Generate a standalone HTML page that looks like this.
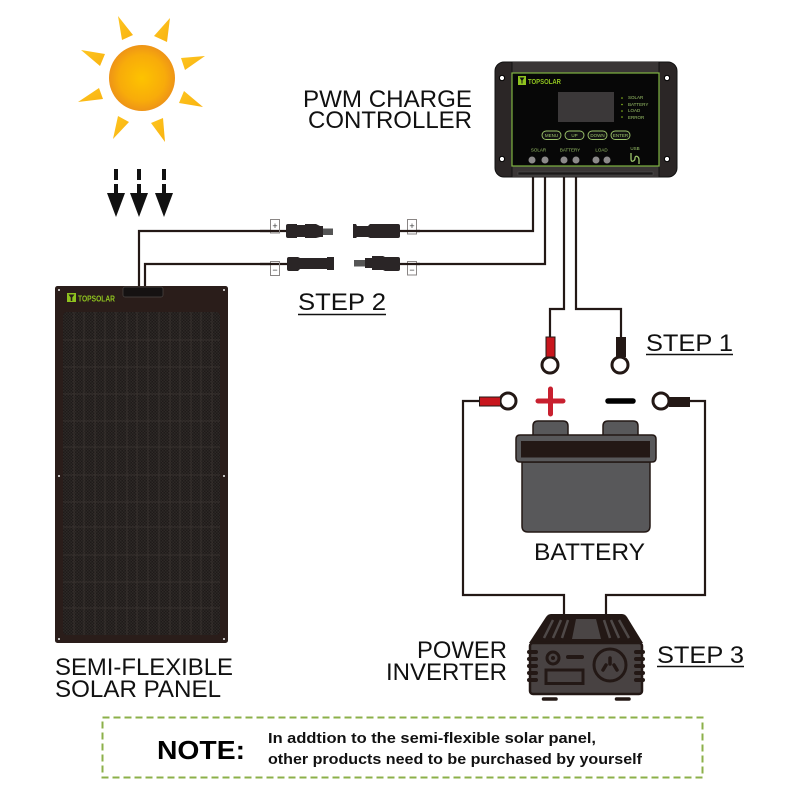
<!DOCTYPE html>
<html>
<head>
<meta charset="utf-8">
<style>
html,body{margin:0;padding:0;background:#fff}
svg{display:block;filter:blur(.35px)}
text{font-family:"Liberation Sans",sans-serif}
</style>
</head>
<body>
<svg width="800" height="800" viewBox="0 0 800 800" xmlns="http://www.w3.org/2000/svg">
<defs>
<radialGradient id="sun" cx="50%" cy="50%" r="50%">
<stop offset="0" stop-color="#fdc300"/><stop offset=".7" stop-color="#f8ab0a"/><stop offset="1" stop-color="#ee9417"/>
</radialGradient>
<linearGradient id="ray" x1="0" y1="0" x2="1" y2="1"><stop offset="0" stop-color="#fdc520"/><stop offset="1" stop-color="#f9b20f"/></linearGradient>
<pattern id="chk" width="3" height="3" patternUnits="userSpaceOnUse">
<rect width="3" height="3" fill="#1f1a19"/><rect width="1.5" height="1.5" fill="#2e2927"/><rect x="1.5" y="1.5" width="1.5" height="1.5" fill="#2e2927"/>
</pattern>
</defs>
<rect width="800" height="800" fill="#fff"/>

<!-- sun -->
<circle cx="142" cy="78" r="33" fill="url(#sun)"/>
<g fill="url(#ray)">
<polygon points="118,16 133,35 122,40"/><polygon points="170,18 167,42 154,36"/>
<polygon points="81,50 105,54 100,66"/><polygon points="205,56 185,70 181,58"/>
<polygon points="78,102 99,88 103,99"/><polygon points="203,107 184,91 179,103"/>
<polygon points="113,139 118,116 129,122"/><polygon points="165,142 151,123 163,118"/>
</g>
<!-- arrows -->
<g fill="#111">
<rect x="114" y="169" width="4" height="11"/><rect x="114" y="184" width="4" height="10"/><polygon points="107,193 125,193 116,217"/>
<rect x="137" y="169" width="4" height="11"/><rect x="137" y="184" width="4" height="10"/><polygon points="130,193 148,193 139,217"/>
<rect x="162" y="169" width="4" height="11"/><rect x="162" y="184" width="4" height="10"/><polygon points="155,193 173,193 164,217"/>
</g>

<!-- wires -->
<g fill="none" stroke="#231815" stroke-width="2.200">
<path d="M139,286V231H287"/>
<path d="M145,286V264H287"/>
<path d="M400,231H533V172"/>
<path d="M400,264H545V172"/>
<path d="M550,340V309H564V172"/>
<path d="M621,340V309H576V172"/>
<path d="M480,401H463V595H564V616"/>
<path d="M690,401H705V595H606V616"/>
</g>

<!-- controller -->
<rect x="495" y="62" width="182" height="115" rx="9" fill="#2b2626" stroke="#111" stroke-width="1"/>
<rect x="512" y="62" width="147" height="11" fill="#3a3636"/>
<rect x="512" y="166" width="147" height="11" fill="#3a3636"/>
<path d="M512,62V177M659,62V177" stroke="#111" stroke-width="1"/>
<rect x="512" y="73" width="147" height="93" fill="#070707" stroke="#7fb441" stroke-width="1.200"/>
<rect x="518" y="172" width="135" height="3" fill="#1c1a1a" stroke="#555" stroke-width=".5"/>
<g fill="#fff" stroke="#000"><circle cx="502" cy="78" r="2.600"/><circle cx="667" cy="78" r="2.600"/><circle cx="502" cy="159" r="2.600"/><circle cx="667" cy="159" r="2.600"/></g>
<path d="M518,76h8v9h-8z" fill="#8fc31f"/><path d="M519.500,77.500h5l-2,3v3h-1v-3z" fill="#111"/>
<text x="528" y="84" font-size="7.500" font-weight="bold" fill="#8fc31f" textLength="33" lengthAdjust="spacingAndGlyphs">TOPSOLAR</text>
<rect x="558" y="92" width="56" height="30" fill="#3b3839"/>
<g font-size="4.500" fill="#9cc46a"><text x="628" y="99">SOLAR</text><text x="628" y="106">BATTERY</text><text x="628" y="112">LOAD</text><text x="628" y="119">ERROR</text></g>
<g fill="#8fc31f"><circle cx="622" cy="98" r=".8"/><circle cx="622" cy="104.500" r=".8"/><circle cx="622" cy="111" r=".8"/><circle cx="622" cy="117" r=".8"/></g>
<g fill="#111" stroke="#9cc46a" stroke-width=".9"><rect x="542" y="131" width="19" height="8.500" rx="4.200"/><rect x="565" y="131" width="19" height="8.500" rx="4.200"/><rect x="588" y="131" width="19" height="8.500" rx="4.200"/><rect x="611" y="131" width="19" height="8.500" rx="4.200"/></g>
<g font-size="4.500" fill="#9cc46a" text-anchor="middle"><text x="551.500" y="137">MENU</text><text x="574.500" y="137">UP</text><text x="597.500" y="137">DOWN</text><text x="620.500" y="137">ENTER</text></g>
<g font-size="4.500" fill="#9cc46a" text-anchor="middle"><text x="538.500" y="151.500">SOLAR</text><text x="570" y="151.500">BATTERY</text><text x="601.500" y="151.500">LOAD</text><text x="635" y="150">USB</text></g>
<g fill="#8c8a8a"><circle cx="532" cy="160" r="3.500"/><circle cx="545" cy="160" r="3.500"/><circle cx="564" cy="160" r="3.500"/><circle cx="576" cy="160" r="3.500"/><circle cx="596" cy="160" r="3.500"/><circle cx="607" cy="160" r="3.500"/></g>
<path d="M631,153v6c0,4 4,2 4,-1s4,-2 4,2v4" fill="none" stroke="#9cc46a" stroke-width="1.300"/>

<!-- connectors -->
<g fill="#2a2526">
<path d="M286,226q0,-2 2,-2h9v1h8v-1h11l4,2h3v11h-3l-4,1h-11v-1h-8v1h-9q-2,0 -2,-2z"/>
<rect x="323" y="228.500" width="10" height="6.500" fill="#555"/>
<path d="M353,224h3l1,2h11l2,-2h28q2,0 2,2v10q0,2 -2,2h-28l-2,-1h-11l-1,1h-3z"/>
<path d="M287,259q0,-2 2,-2h9l2,1h27v-1h7v13h-7v-1h-27l-2,2h-9q-2,0 -2,-2z"/>
<rect x="354" y="260" width="11" height="6.500" fill="#555"/>
<path d="M365,258h7v-2h11l2,1h13q2,0 2,2v10q0,2 -2,2h-13l-2,-1h-11v-2h-7z"/>
</g>
<g fill="#fff" stroke="#8a8685" stroke-width="1">
<rect x="270.500" y="219.500" width="9" height="13.500"/><rect x="270.500" y="261.500" width="9" height="14"/>
<rect x="407.500" y="219.500" width="9" height="14.500"/><rect x="407.500" y="261.500" width="9" height="13.500"/>
</g>
<path d="M260,231H279M260,264H279M407,231H420M407,264H420" stroke="#231815" stroke-width="2.200"/>
<g fill="#333" font-size="9" text-anchor="middle"><text x="275" y="229">+</text><text x="275" y="273">−</text><text x="412" y="229">+</text><text x="412" y="273">−</text></g>

<!-- solar panel -->
<rect x="55" y="286" width="173" height="357" rx="2.500" fill="#2a1d1a"/>
<rect x="63" y="312" width="157" height="323" rx="4" fill="url(#chk)"/>
<g stroke="#3c3633" stroke-width=".8">
<path d="M63,340H220M63,367H220M63,394H220M63,421H220M63,447H220M63,475H220M63,502H220M63,527H220M63,555H220M63,582H220M63,608H220"/>
<path d="M74,312V635M84,312V635M95,312V635M105,312V635M116,312V635M127,312V635M137,312V635M148,312V635M159,312V635M170,312V635M180,312V635M191,312V635M201,312V635M212,312V635"/>
</g>
<rect x="123" y="287" width="40" height="10" rx="2" fill="#151212" stroke="#4d4845" stroke-width=".7"/>
<g fill="#eee"><circle cx="59" cy="290" r="1"/><circle cx="224" cy="290" r="1"/><circle cx="59" cy="476" r="1"/><circle cx="224" cy="476" r="1"/><circle cx="59" cy="639" r="1"/><circle cx="224" cy="639" r="1"/></g>
<rect x="67" y="293" width="9" height="9" fill="#8fc31f"/><path d="M68.500,294.500h6l-2.200,3v3.500h-1.600v-3.500z" fill="#2a1d1a"/>
<text x="78" y="301.500" font-size="8.500" font-weight="bold" fill="#8fc31f" textLength="37" lengthAdjust="spacingAndGlyphs">TOPSOLAR</text>

<!-- terminals -->
<g fill="#fff" stroke="#231815" stroke-width="3">
<circle cx="550" cy="365" r="8"/><circle cx="620" cy="365" r="8"/><circle cx="508" cy="401" r="8"/><circle cx="661" cy="401" r="8"/>
</g>
<rect x="546" y="337" width="9" height="20" fill="#c8161d" stroke="#231815"/>
<rect x="616" y="337" width="10" height="20" fill="#231815"/>
<rect x="479.500" y="397" width="21" height="9" fill="#c8161d" stroke="#231815"/>
<rect x="669" y="397" width="21" height="10" fill="#231815"/>
<path d="M538,401H563M550.500,389V414" stroke="#c8202f" stroke-width="5" stroke-linecap="round"/>
<path d="M608,401H633" stroke="#000" stroke-width="5.500" stroke-linecap="round"/>

<!-- battery -->
<g fill="#58585a" stroke="#231815" stroke-width="1.500">
<path d="M533,437V426q0,-5 5,-5h25q5,0 5,5v11z"/>
<path d="M603,437V426q0,-5 5,-5h25q5,0 5,5v11z"/>
<path d="M522,462H650V526q0,6 -6,6H528q-6,0 -6,-6z"/>
<path d="M520,435H652q4,0 4,4v19q0,4 -4,4H520q-4,0 -4,-4V439q0,-4 4,-4z"/>
</g>
<rect x="521" y="441" width="129" height="16.500" fill="#231815"/>

<!-- inverter -->
<path d="M551,614H622q3,0 5,3L643,643H529L546,617q2,-3 5,-3z" fill="#231815"/>
<path d="M576,619H596L601,639H572z" fill="#4a4545"/>
<g stroke="#4f4948" stroke-width="2.500"><path d="M553,620L544,638M561,620L553,638M568,620L562,638M604,620L610,638M611,620L619,638M619,620L629,638"/></g>
<rect x="530" y="643" width="112" height="51" rx="3" fill="#484242" stroke="#231815" stroke-width="2.500"/>
<g stroke="#231815" stroke-width="4" stroke-linecap="round"><path d="M529,652H536M529,659H536M529,666H536M529,673H536M529,680H536M636,652H643M636,659H643M636,666H643M636,673H643M636,680H643"/></g>
<circle cx="553" cy="658" r="6" fill="#484242" stroke="#231815" stroke-width="3"/><circle cx="553" cy="658" r="2" fill="#231815"/>
<path d="M568,657H582" stroke="#231815" stroke-width="4" stroke-linecap="round"/>
<rect x="546" y="670" width="37" height="13.500" fill="#484242" stroke="#231815" stroke-width="3"/>
<circle cx="610" cy="665" r="16" fill="#484242" stroke="#231815" stroke-width="3"/>
<path d="M610,658V664M603,670L606,665M617,670L614,665" stroke="#231815" stroke-width="3.500" stroke-linecap="round"/>
<path d="M543.500,699H556M616.500,699H629" stroke="#231815" stroke-width="3.500" stroke-linecap="round"/>

<!-- labels -->
<g fill="#111" font-size="24">
<text x="303" y="107" textLength="169" lengthAdjust="spacingAndGlyphs">PWM CHARGE</text>
<text x="308" y="128" textLength="164" lengthAdjust="spacingAndGlyphs">CONTROLLER</text>
<text x="298" y="310" textLength="88" lengthAdjust="spacingAndGlyphs">STEP 2</text>
<text x="646" y="351" textLength="87" lengthAdjust="spacingAndGlyphs">STEP 1</text>
<text x="657" y="663" textLength="87" lengthAdjust="spacingAndGlyphs">STEP 3</text>
<text x="534" y="560" textLength="111" lengthAdjust="spacingAndGlyphs">BATTERY</text>
<text x="417" y="658" textLength="90" lengthAdjust="spacingAndGlyphs">POWER</text>
<text x="386" y="680" textLength="121" lengthAdjust="spacingAndGlyphs">INVERTER</text>
<text x="55" y="675" textLength="178" lengthAdjust="spacingAndGlyphs">SEMI-FLEXIBLE</text>
<text x="55" y="697" textLength="166" lengthAdjust="spacingAndGlyphs">SOLAR PANEL</text>
</g>
<path d="M298,314.500H386M646,354.500H733M657,666.500H744" stroke="#111" stroke-width="1.500"/>

<!-- note -->
<rect x="102.500" y="717.500" width="600" height="60" fill="none" stroke="#8cb04a" stroke-width="2" stroke-dasharray="7 4"/>
<text x="157" y="759" font-size="26" font-weight="bold" fill="#000" textLength="88" lengthAdjust="spacingAndGlyphs">NOTE:</text>
<text x="268" y="743" font-size="15" font-weight="bold" fill="#111" textLength="328" lengthAdjust="spacingAndGlyphs">In addtion to the semi-flexible solar panel,</text>
<text x="268" y="764" font-size="15" font-weight="bold" fill="#111" textLength="374" lengthAdjust="spacingAndGlyphs">other products need to be purchased by yourself</text>
</svg>
</body>
</html>
